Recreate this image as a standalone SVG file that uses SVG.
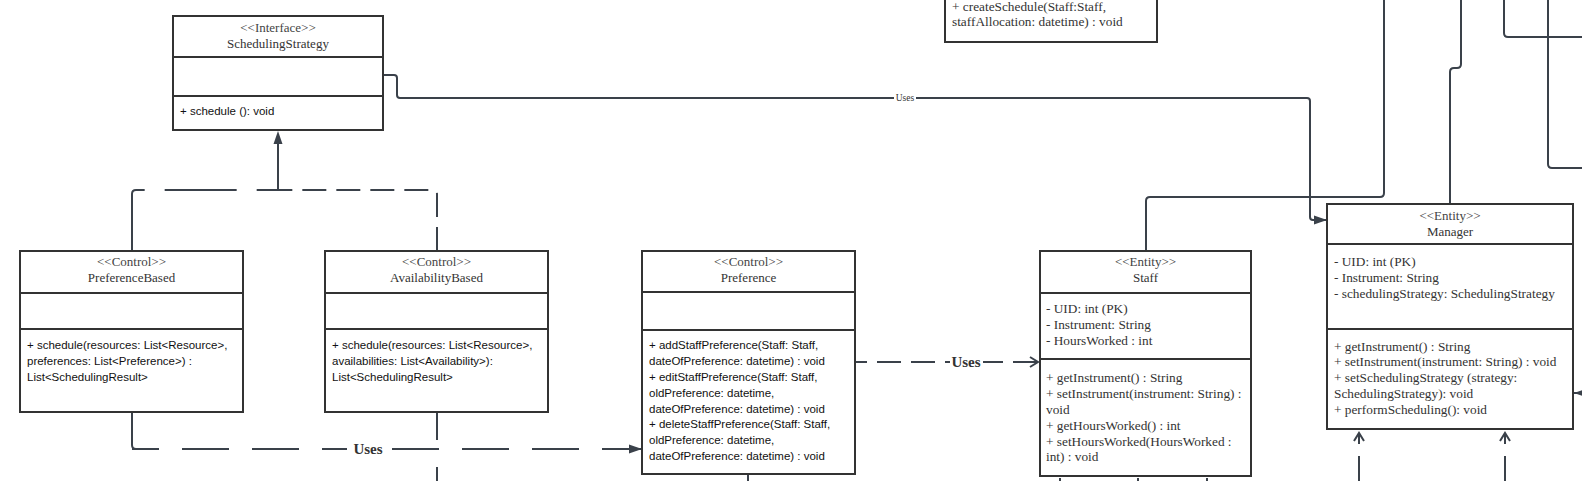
<svg xmlns="http://www.w3.org/2000/svg" width="1582" height="481" viewBox="0 0 1582 481">
<style>
.box{fill:#fff;stroke:#333;stroke-width:2}
.div{stroke:#333;stroke-width:2}
.st{font-family:"Liberation Serif",serif;font-size:13px;fill:#444;text-anchor:middle}
.nm{font-family:"Liberation Serif",serif;font-size:13px;fill:#333;text-anchor:middle}
.ms{font-family:"Liberation Sans",Arial,sans-serif;font-size:11.5px;fill:#111}
.es{font-family:"Liberation Serif",serif;font-size:13.3px;fill:#333}
.c{fill:none;stroke:#3a414a;stroke-width:2;stroke-linejoin:round}
.lbl{font-family:"Liberation Serif",serif;font-size:15px;font-weight:bold;fill:#333;text-anchor:middle}
.sm{font-family:"Liberation Serif",serif;font-size:9.5px;fill:#333;text-anchor:middle}
</style>
<defs>
<marker id="fa" markerUnits="userSpaceOnUse" markerWidth="14" markerHeight="10" refX="13" refY="5" orient="auto">
<path d="M0,0.5 L13,5 L0,9.5 z" fill="#3a414a" stroke="none"/>
</marker>
<marker id="oa" markerUnits="userSpaceOnUse" markerWidth="12" markerHeight="12" refX="10" refY="6" orient="auto">
<path d="M2,1 L10,6 L2,11" fill="none" stroke="#3a414a" stroke-width="2" stroke-dasharray="none"/>
</marker>
</defs>

<g id="connectors">
<!-- generalization to SchedulingStrategy -->
<path class="c" d="M132,251 V194 Q132,190 136,190 H278 V131" stroke-dasharray="72 20" marker-end="url(#fa)"/>
<path class="c" d="M437,251 V194 Q437,190 433,190 H278" stroke-dasharray="24 10"/>
<!-- SchedulingStrategy uses Manager -->
<path class="c" d="M383,75 H394 Q397,75 397,78 V95 Q397,98 400,98 H1307 Q1310,98 1310,101 V217 Q1310,220 1313,220 H1327" marker-end="url(#fa)"/>
<rect x="894" y="92" width="22" height="11" fill="#fff"/>
<text class="sm" x="905" y="101">Uses</text>
<!-- PreferenceBased uses Preference -->
<path class="c" d="M132,412 V445 Q132,449 136,449"/>
<path class="c" d="M132,449 H642" stroke-dasharray="47 23" stroke-dashoffset="20" marker-end="url(#fa)"/>
<rect x="347" y="439" width="42" height="20" fill="#fff"/>
<text class="lbl" x="368" y="454">Uses</text>
<!-- AvailabilityBased down -->
<path class="c" d="M437,412 V481" stroke-dasharray="28 27"/>
<!-- Preference uses Staff -->
<path class="c" d="M855,362 H1038" stroke-dasharray="24 10" stroke-dashoffset="12" marker-end="url(#oa)"/>
<rect x="950" y="352" width="33" height="20" fill="#fff"/>
<text class="lbl" x="966" y="367">Uses</text>
<!-- Preference bottom -->
<path class="c" d="M748,474 V481"/>
<!-- Staff top up -->
<path class="c" d="M1146,251 V201 Q1146,197 1150,197 H1380 Q1384,197 1384,193 V0"/>
<!-- Manager top up -->
<path class="c" d="M1450,204 V72 Q1450,68 1454,68 H1457 Q1461,68 1461,64 V0"/>
<!-- top right lines -->
<path class="c" d="M1504,0 V33 Q1504,37 1508,37 H1582"/>
<path class="c" d="M1548,0 V164 Q1548,168 1552,168 H1582"/>
<!-- right arrow into Manager -->
<path class="c" d="M1590,393 H1574" marker-end="url(#fa)"/>
<!-- arrows under Manager -->
<path class="c" d="M1359,444 V433" marker-end="url(#oa)"/>
<path class="c" d="M1359,456 V490"/>
<path class="c" d="M1505,444 V433" marker-end="url(#oa)"/>
<path class="c" d="M1505,456 V490"/>
<!-- arrows under Staff -->
<path class="c" d="M1060,495 V478" marker-end="url(#fa)"/>
<path class="c" d="M1138,495 V478" marker-end="url(#fa)"/>
<path class="c" d="M1207,495 V478" marker-end="url(#fa)"/>
</g>

<g id="node-top">
<rect class="box" x="945" y="-60" width="212" height="102"/>
<text class="es" x="952" y="10.5">+ createSchedule(Staff:Staff,</text>
<text class="es" x="952" y="25.5">staffAllocation: datetime) : void</text>
</g>

<g id="node-SchedulingStrategy">
<rect class="box" x="173" y="16" width="210" height="114"/>
<line class="div" x1="173" y1="57" x2="383" y2="57"/>
<line class="div" x1="173" y1="96" x2="383" y2="96"/>
<text class="st" x="278" y="32">&lt;&lt;Interface&gt;&gt;</text>
<text class="nm" x="278" y="48">SchedulingStrategy</text>
<text class="ms" x="180" y="115">+ schedule (): void</text>
</g>

<g id="node-PreferenceBased">
<rect class="box" x="20" y="251" width="223" height="161"/>
<line class="div" x1="20" y1="293" x2="243" y2="293"/>
<line class="div" x1="20" y1="329" x2="243" y2="329"/>
<text class="st" x="131.5" y="266">&lt;&lt;Control&gt;&gt;</text>
<text class="nm" x="131.5" y="282">PreferenceBased</text>
<text class="ms" x="27" y="349">+ schedule(resources: List&lt;Resource&gt;,</text>
<text class="ms" x="27" y="365">preferences: List&lt;Preference&gt;) :</text>
<text class="ms" x="27" y="380.5">List&lt;SchedulingResult&gt;</text>
</g>

<g id="node-AvailabilityBased">
<rect class="box" x="325" y="251" width="223" height="161"/>
<line class="div" x1="325" y1="293" x2="548" y2="293"/>
<line class="div" x1="325" y1="329" x2="548" y2="329"/>
<text class="st" x="436.5" y="266">&lt;&lt;Control&gt;&gt;</text>
<text class="nm" x="436.5" y="282">AvailabilityBased</text>
<text class="ms" x="332" y="349">+ schedule(resources: List&lt;Resource&gt;,</text>
<text class="ms" x="332" y="365">availabilities: List&lt;Availability&gt;):</text>
<text class="ms" x="332" y="380.5">List&lt;SchedulingResult&gt;</text>
</g>

<g id="node-Preference">
<rect class="box" x="642" y="251" width="213" height="223"/>
<line class="div" x1="642" y1="292" x2="855" y2="292"/>
<line class="div" x1="642" y1="330" x2="855" y2="330"/>
<text class="st" x="748.5" y="266">&lt;&lt;Control&gt;&gt;</text>
<text class="nm" x="748.5" y="282">Preference</text>
<text class="ms" x="649" y="349">+ addStaffPreference(Staff: Staff,</text>
<text class="ms" x="649" y="365">dateOfPreference: datetime) : void</text>
<text class="ms" x="649" y="380.5">+ editStaffPreference(Staff: Staff,</text>
<text class="ms" x="649" y="396.5">oldPreference: datetime,</text>
<text class="ms" x="649" y="412.5">dateOfPreference: datetime) : void</text>
<text class="ms" x="649" y="428">+ deleteStaffPreference(Staff: Staff,</text>
<text class="ms" x="649" y="444">oldPreference: datetime,</text>
<text class="ms" x="649" y="460">dateOfPreference: datetime) : void</text>
</g>

<g id="node-Staff">
<rect class="box" x="1040" y="251" width="211" height="225"/>
<line class="div" x1="1040" y1="293" x2="1251" y2="293"/>
<line class="div" x1="1040" y1="359" x2="1251" y2="359"/>
<text class="st" x="1145.5" y="266">&lt;&lt;Entity&gt;&gt;</text>
<text class="nm" x="1145.5" y="282">Staff</text>
<text class="es" x="1046" y="313">- UID: int (PK)</text>
<text class="es" x="1046" y="329">- Instrument: String</text>
<text class="es" x="1046" y="344.5">- HoursWorked : int</text>
<text class="es" x="1046" y="382">+ getInstrument() : String</text>
<text class="es" x="1046" y="398">+ setInstrument(instrument: String) :</text>
<text class="es" x="1046" y="414">void</text>
<text class="es" x="1046" y="429.5">+ getHoursWorked() : int</text>
<text class="es" x="1046" y="445.5">+ setHoursWorked(HoursWorked :</text>
<text class="es" x="1046" y="460.5">int) : void</text>
</g>

<g id="node-Manager">
<rect class="box" x="1327" y="204" width="246" height="225"/>
<line class="div" x1="1327" y1="244" x2="1573" y2="244"/>
<line class="div" x1="1327" y1="329" x2="1573" y2="329"/>
<text class="st" x="1450" y="219.5">&lt;&lt;Entity&gt;&gt;</text>
<text class="nm" x="1450" y="235.5">Manager</text>
<text class="es" x="1334" y="265.5">- UID: int (PK)</text>
<text class="es" x="1334" y="282">- Instrument: String</text>
<text class="es" x="1334" y="298">- schedulingStrategy: SchedulingStrategy</text>
<text class="es" x="1334" y="350.5">+ getInstrument() : String</text>
<text class="es" x="1334" y="365.5">+ setInstrument(instrument: String) : void</text>
<text class="es" x="1334" y="382">+ setSchedulingStrategy (strategy:</text>
<text class="es" x="1334" y="398">SchedulingStrategy): void</text>
<text class="es" x="1334" y="414">+ performScheduling(): void</text>
</g>
</svg>
